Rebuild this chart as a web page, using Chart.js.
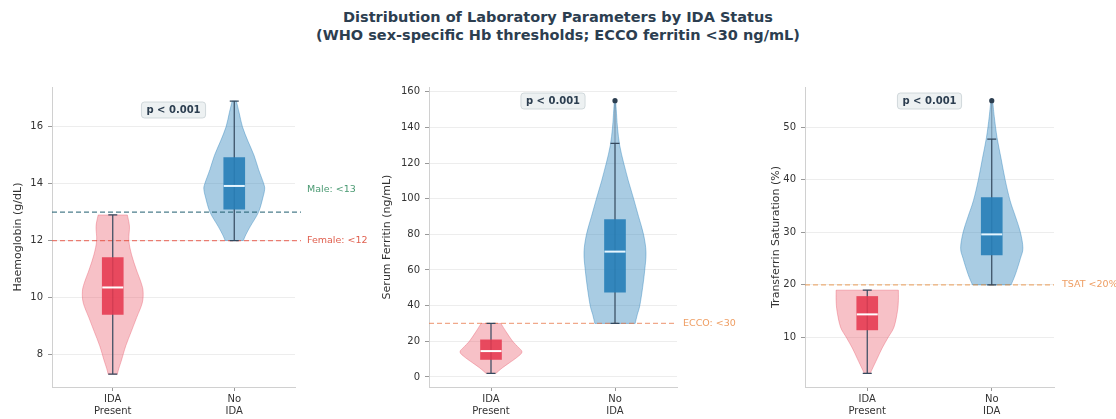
<!DOCTYPE html>
<html>
<head>
<meta charset="utf-8">
<script src="https://cdn.jsdelivr.net/npm/chart.js@4.4.1/dist/chart.umd.min.js"></script>
<style>
  body { margin: 0; width: 1116px; height: 419px; background: #fff; position: relative; overflow: hidden; }
  #title { position: absolute; top: 8px; left: 0; width: 1116px; text-align: center;
           font: bold 14.5px 'DejaVu Sans', sans-serif; line-height: 18px; color: #2c3e50; }
  .panel { position: absolute; top: 60px; width: 372px; height: 359px; }
</style>
</head>
<body>
<div id="title">Distribution of Laboratory Parameters by IDA Status<br>(WHO sex-specific Hb thresholds; ECCO ferritin &lt;30 ng/mL)</div>
<div class="panel" style="left:0px"><canvas id="hb" width="372" height="359"></canvas></div>
<div class="panel" style="left:372px"><canvas id="fer" width="372" height="359"></canvas></div>
<div class="panel" style="left:744px"><canvas id="tsat" width="372" height="359"></canvas></div>
<script>
// ---- groups ----
const groupLabels = [['IDA', 'Present'], ['No', 'IDA']];

// ---- Haemoglobin (g/dL) ----
const hbQ1 = [9.4, 13.1];
const hbMedian = [10.35, 13.92];
const hbQ3 = [11.4, 14.92];
const hbWhiskerLow = [7.3, 12.0];
const hbWhiskerHigh = [12.9, 16.9];
const hbOutliers = [[], []];
// kernel density outline: [value, relative width]
const hbDensityPresent = [[7.3, 0.15], [7.5, 0.2], [7.8, 0.29], [8.3, 0.43], [8.8, 0.61], [9.3, 0.79], [9.8, 0.97],
  [10.2, 1.0], [10.5, 0.94], [11.0, 0.77], [11.5, 0.62], [12.0, 0.53], [12.5, 0.55], [12.9, 0.48]];
const hbDensityAbsent = [[12.0, 0.3], [12.2, 0.38], [12.5, 0.53], [13.0, 0.8], [13.5, 0.94], [13.8, 1.0], [14.0, 0.97],
  [14.5, 0.8], [15.0, 0.65], [15.5, 0.45], [16.0, 0.27], [16.5, 0.16], [16.9, 0.07]];
const hbTicks = { min: 6.85, max: 17.4, step: 2 };

// ---- Serum ferritin (ng/mL) ----
const ferQ1 = [9.8, 47.5];
const ferMedian = [14.5, 70.3];
const ferQ3 = [20.8, 88.3];
const ferWhiskerLow = [2, 30];
const ferWhiskerHigh = [30, 131];
const ferOutliers = [[], [155]];
const ferDensityPresent = [[2, 0.16], [5, 0.36], [8, 0.6], [11, 0.84], [14, 1.0], [17, 0.86], [20, 0.7], [25, 0.5], [30, 0.32]];
const ferDensityAbsent = [[30, 0.65], [35, 0.72], [40, 0.8], [50, 0.89], [60, 0.96], [70, 1.0], [80, 0.92], [90, 0.76],
  [100, 0.6], [110, 0.43], [120, 0.28], [130, 0.15], [140, 0.08], [150, 0.04], [155, 0.02]];
const ferTicks = { min: -5.65, max: 162.65, step: 20 };

// ---- Transferrin saturation (%) ----
const tsatQ1 = [11.45, 25.7];
const tsatMedian = [14.4, 29.6];
const tsatQ3 = [17.8, 36.6];
const tsatWhiskerLow = [3.2, 20];
const tsatWhiskerHigh = [19, 47.7];
const tsatOutliers = [[], [55]];
const tsatDensityPresent = [[3.2, 0.1], [4, 0.16], [6, 0.32], [8, 0.48], [10, 0.67], [12, 0.86], [15, 0.97], [17, 1.0], [19, 1.0]];
const tsatDensityAbsent = [[20, 0.62], [22, 0.76], [25, 0.92], [27, 1.0], [30, 0.92], [33, 0.76], [36, 0.59], [40, 0.43],
  [44, 0.3], [48, 0.17], [52, 0.08], [55, 0.03]];
const tsatTicks = { min: 0.6, max: 57.6, step: 10 };

// ---- colours ----
const violinFill = ['rgba(231,76,94,0.35)', 'rgba(41,128,185,0.4)'];
const violinEdge = ['rgba(231,76,94,0.45)', 'rgba(41,128,185,0.5)'];
const boxFill = ['rgba(230,57,80,0.88)', 'rgba(41,128,185,0.92)'];
const whiskerColor = '#34495e';

Chart.defaults.font.family = "'DejaVu Sans', sans-serif";
Chart.defaults.color = '#333';

// Catmull-Rom curve through pixel points (first point already reached)
function curveThrough(ctx, pts) {
  for (let i = 0; i < pts.length - 1; i++) {
    const p0 = pts[Math.max(0, i - 1)], p1 = pts[i], p2 = pts[i + 1], p3 = pts[Math.min(pts.length - 1, i + 2)];
    ctx.bezierCurveTo(
      p1[0] + (p2[0] - p0[0]) / 6, p1[1] + (p2[1] - p0[1]) / 6,
      p2[0] - (p3[0] - p1[0]) / 6, p2[1] - (p3[1] - p1[1]) / 6,
      p2[0], p2[1]);
  }
}

// Violin bodies, whiskers, medians, outliers, threshold lines and p-value badge
const violinPlugin = {
  id: 'violin',
  beforeDatasetsDraw(chart, args, o) {
    const { ctx, chartArea } = chart;
    const xs = chart.scales.x, ys = chart.scales.y;
    const step = xs.getPixelForValue(1) - xs.getPixelForValue(0);
    const half = step * 0.25;
    o.density.forEach((prof, i) => {
      const cx = xs.getPixelForValue(i);
      const right = prof.map(([v, w]) => [cx + w * half, ys.getPixelForValue(v)]);
      const left = prof.map(([v, w]) => [cx - w * half, ys.getPixelForValue(v)]).reverse();
      ctx.save();
      ctx.beginPath();
      ctx.moveTo(right[0][0], right[0][1]);
      curveThrough(ctx, right);
      ctx.lineTo(left[0][0], left[0][1]);
      curveThrough(ctx, left);
      ctx.closePath();
      ctx.fillStyle = violinFill[i];
      ctx.fill();
      ctx.strokeStyle = violinEdge[i];
      ctx.lineWidth = 0.8;
      ctx.stroke();
      ctx.restore();
    });
    // threshold lines
    o.refLines.forEach(r => {
      const py = ys.getPixelForValue(r.value);
      ctx.save();
      ctx.strokeStyle = r.lineColor;
      ctx.lineWidth = 1.2;
      ctx.setLineDash([5, 3]);
      ctx.beginPath();
      ctx.moveTo(chartArea.left, py);
      ctx.lineTo(chartArea.right + (o.lineExtra || 0), py);
      ctx.stroke();
      ctx.restore();
      ctx.save();
      ctx.fillStyle = r.textColor;
      ctx.font = "9.5px 'DejaVu Sans'";
      ctx.textBaseline = 'middle';
      ctx.textAlign = 'left';
      ctx.fillText(r.label, chartArea.right + o.labelDx, ys.getPixelForValue(r.labelAt));
      ctx.restore();
    });
    // whiskers and extrema
    o.low.forEach((lo, i) => {
      const cx = xs.getPixelForValue(i);
      const out = o.outliers[i];
      ctx.save();
      if (out.length) {
        const top = Math.max(...out);
        ctx.strokeStyle = 'rgba(52,73,94,0.45)';
        ctx.lineWidth = 1;
        ctx.beginPath();
        ctx.moveTo(cx, ys.getPixelForValue(o.high[i]));
        ctx.lineTo(cx, ys.getPixelForValue(top));
        ctx.stroke();
      }
      ctx.strokeStyle = whiskerColor;
      ctx.lineWidth = 1.2;
      ctx.beginPath();
      ctx.moveTo(cx, ys.getPixelForValue(lo));
      ctx.lineTo(cx, ys.getPixelForValue(o.high[i]));
      [lo, o.high[i]].forEach(v => {
        const py = ys.getPixelForValue(v);
        ctx.moveTo(cx - 4.5, py);
        ctx.lineTo(cx + 4.5, py);
      });
      ctx.stroke();
      ctx.restore();
    });
  },
  afterDatasetsDraw(chart, args, o) {
    const { ctx, chartArea } = chart;
    const xs = chart.scales.x, ys = chart.scales.y;
    o.median.forEach((m, i) => {
      const cx = xs.getPixelForValue(i);
      const py = ys.getPixelForValue(m);
      ctx.save();
      ctx.strokeStyle = i === 0 ? '#ffffff' : '#e6f6ff';
      ctx.lineWidth = 2;
      ctx.beginPath();
      ctx.moveTo(cx - 10.5, py);
      ctx.lineTo(cx + 10.5, py);
      ctx.stroke();
      ctx.restore();
      o.outliers[i].forEach(v => {
        ctx.save();
        ctx.fillStyle = '#2c3e50';
        ctx.beginPath();
        ctx.arc(cx, ys.getPixelForValue(v), 2.6, 0, Math.PI * 2);
        ctx.fill();
        ctx.restore();
      });
    });
    // p-value badge
    const bx = (chartArea.left + chartArea.right) / 2;
    const by = chartArea.top + o.badgeDy;
    const text = 'p < 0.001';
    ctx.save();
    ctx.font = "bold 10px 'DejaVu Sans'";
    const w = ctx.measureText(text).width + 10, h = 16;
    ctx.beginPath();
    ctx.roundRect(bx - w / 2, by - h / 2, w, h, 3);
    ctx.fillStyle = 'rgba(236,240,241,0.95)';
    ctx.fill();
    ctx.strokeStyle = '#c8d0d4';
    ctx.lineWidth = 0.8;
    ctx.stroke();
    ctx.fillStyle = '#2c3e50';
    ctx.textAlign = 'center';
    ctx.textBaseline = 'middle';
    ctx.fillText(text, bx, by + 0.5);
    ctx.restore();
  }
};

function makePanel(id, p) {
  return new Chart(document.getElementById(id), {
    type: 'bar',
    data: {
      labels: groupLabels,
      datasets: [{
        data: p.q1.map((v, i) => [v, p.q3[i]]),
        backgroundColor: boxFill,
        borderWidth: 0,
        barThickness: 21
      }]
    },
    options: {
      responsive: false,
      animation: false,
      devicePixelRatio: 1,
      layout: { padding: { top: 27, right: p.padRight, left: 0, bottom: 0 } },
      plugins: {
        legend: { display: false },
        tooltip: { enabled: false },
        violin: {
          density: p.density, median: p.median, low: p.low, high: p.high, outliers: p.outliers,
          refLines: p.refLines, labelDx: p.labelDx, lineExtra: p.lineExtra, badgeDy: p.badgeDy
        }
      },
      scales: {
        x: {
          grid: { drawOnChartArea: false, offset: false, tickLength: 4, tickColor: '#999', tickWidth: 1 },
          border: { color: '#d0d0d0' },
          ticks: { font: { size: 10 }, padding: 2, color: '#333' },
          afterFit(s) { s.height = 32; }
        },
        y: {
          min: p.ticks.min, max: p.ticks.max,
          grid: { color: 'rgba(0,0,0,0.07)', tickLength: 4, tickColor: '#999' },
          border: { color: '#d0d0d0' },
          ticks: { stepSize: p.ticks.step, includeBounds: false, font: { size: 10 }, padding: 5, color: '#333' },
          title: { display: true, text: p.title, font: { size: 11 }, color: '#333', padding: { top: p.titlePad, bottom: 0 } },
          afterFit(s) { s.width = p.left; }
        }
      }
    },
    plugins: [violinPlugin]
  });
}

makePanel('hb', {
  q1: hbQ1, q3: hbQ3, median: hbMedian, low: hbWhiskerLow, high: hbWhiskerHigh, outliers: hbOutliers,
  density: [hbDensityPresent, hbDensityAbsent], ticks: hbTicks, title: 'Haemoglobin (g/dL)',
  left: 52, padRight: 77, titlePad: 12, labelDx: 12, lineExtra: 6, badgeDy: 23,
  refLines: [
    { value: 13, labelAt: 13.8, label: 'Male: <13', lineColor: 'rgba(31,92,110,0.8)', textColor: '#4a9a72' },
    { value: 12, labelAt: 12, label: 'Female: <12', lineColor: 'rgba(231,76,60,0.7)', textColor: '#e0604f' }
  ]
});

makePanel('fer', {
  q1: ferQ1, q3: ferQ3, median: ferMedian, low: ferWhiskerLow, high: ferWhiskerHigh, outliers: ferOutliers,
  density: [ferDensityPresent, ferDensityAbsent], ticks: ferTicks, title: 'Serum Ferritin (ng/mL)',
  left: 57, padRight: 67, titlePad: 9, labelDx: 6, lineExtra: 0, badgeDy: 14,
  refLines: [
    { value: 30, labelAt: 30, label: 'ECCO: <30', lineColor: 'rgba(230,110,60,0.6)', textColor: 'rgba(235,140,70,0.85)' }
  ]
});

makePanel('tsat', {
  q1: tsatQ1, q3: tsatQ3, median: tsatMedian, low: tsatWhiskerLow, high: tsatWhiskerHigh, outliers: tsatOutliers,
  density: [tsatDensityPresent, tsatDensityAbsent], ticks: tsatTicks, title: 'Transferrin Saturation (%)',
  left: 61, padRight: 62, titlePad: 26, labelDx: 8, lineExtra: 0, badgeDy: 14,
  refLines: [
    { value: 20, labelAt: 20, label: 'TSAT <20%', lineColor: 'rgba(230,126,34,0.6)', textColor: 'rgba(235,140,70,0.85)' }
  ]
});
</script>
</body>
</html>
